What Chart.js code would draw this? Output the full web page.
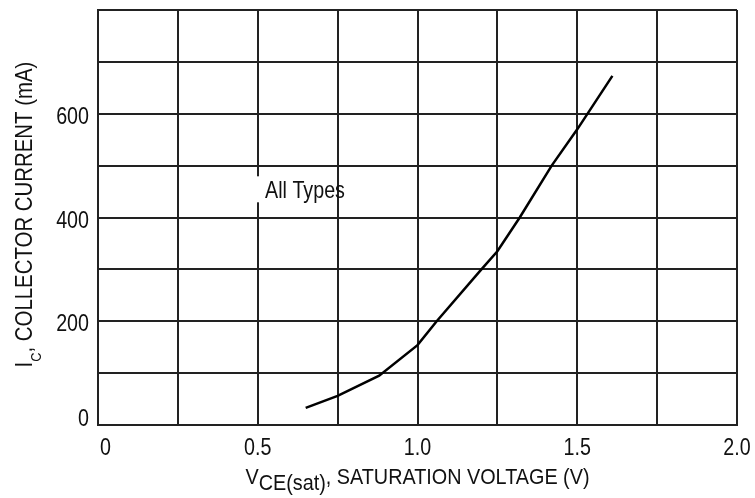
<!DOCTYPE html>
<html>
<head>
<meta charset="utf-8">
<script src="https://cdn.jsdelivr.net/npm/chart.js@4.4.1/dist/chart.umd.min.js"></script>
<style>
html, body { margin: 0; padding: 0; background: #fff; }
</style>
</head>
<body>
<canvas id="saturacion" width="755" height="498"></canvas>
<script>
// Curva (V, mA)
const vce = [0.65, 0.75, 0.88, 1.0, 1.06, 1.2, 1.25, 1.32, 1.42, 1.5, 1.61];
const ic = [33, 56, 95, 154, 200, 300, 335, 400, 500, 570, 673];

// Etiquetas de los ejes
const valoresX = [0, 0.5, 1.0, 1.5, 2.0];
const etiquetasX = ["0", "0.5", "1.0", "1.5", "2.0"];
const valoresY = [0, 200, 400, 600];
const etiquetasY = ["0", "200", "400", "600"];

// Arial Narrow no esta: se usa Liberation Sans comprimida a lo ancho
const fuente = "'Liberation Sans', Arial, sans-serif";
const estrecho = 0.82;
const negro = "#111";
const rejilla = "#222";

function texto(ctx, t, x, y, tam, alin, esc) {
    ctx.save();
    ctx.translate(x, y);
    ctx.scale(esc || estrecho, 1);
    ctx.font = tam + "px " + fuente;
    ctx.textAlign = alin || "left";
    ctx.fillText(t, 0, 0);
    ctx.restore();
}
function ancho(ctx, t, tam, esc) {
    ctx.font = tam + "px " + fuente;
    return ctx.measureText(t).width * (esc || estrecho);
}
// partes: [texto, tamaño, desplazamiento hacia abajo]
function partes(ctx, lista, x, y, esc) {
    lista.forEach(p => {
        texto(ctx, p[0], x, y + p[2], p[1], "left", esc);
        x += ancho(ctx, p[0], p[1], esc);
    });
}
function anchoPartes(ctx, lista, esc) {
    return lista.reduce((w, p) => w + ancho(ctx, p[0], p[1], esc), 0);
}

const textos = {
    id: "textos",
    afterDraw(chart) {
        const ctx = chart.ctx;
        const area = chart.chartArea;
        const sx = chart.scales.x, sy = chart.scales.y;
        ctx.save();
        ctx.fillStyle = negro;
        ctx.textBaseline = "alphabetic";

        // etiquetas del eje X
        valoresX.forEach((v, i) => {
            const px = sx.getPixelForValue(v);
            if (i === 0) texto(ctx, etiquetasX[i], px + 2, area.bottom + 30, 24, "left");
            else texto(ctx, etiquetasX[i], px, area.bottom + 30, 24, "center");
        });
        // etiquetas del eje Y
        valoresY.forEach((v, i) => {
            const py = sy.getPixelForValue(v);
            texto(ctx, etiquetasY[i], area.left - 9, py + (i === 0 ? 1 : 10), 24, "right");
        });

        // "All Types" con fondo blanco
        const tx = sx.getPixelForValue(0.523);
        const ty = sy.getPixelForValue(437);
        const tw = ancho(ctx, "All Types", 24);
        ctx.fillStyle = "#fff";
        ctx.fillRect(tx - 10, ty - 22, tw + 2, 26);
        ctx.fillStyle = negro;
        texto(ctx, "All Types", tx, ty, 24);

        // titulo eje X
        const partesX = [["V", 22, 0], ["CE(sat)", 22, 6], [", SATURATION VOLTAGE (V)", 22, 0]];
        const wx = anchoPartes(ctx, partesX, 0.9);
        partes(ctx, partesX, (area.left + area.right) / 2 - wx / 2, area.bottom + 59, 0.9);

        // titulo eje Y
        const partesY = [["I", 24, 0], ["C", 15, 9], [", COLLECTOR CURRENT (mA)", 24, 0]];
        const wy = anchoPartes(ctx, partesY, 0.85);
        ctx.translate(32, (area.top + area.bottom) / 2 - 3);
        ctx.rotate(-Math.PI / 2);
        partes(ctx, partesY, -wy / 2, 0, 0.85);
        ctx.restore();
    }
};

new Chart("saturacion", {
    type: "scatter",
    data: {
        datasets: [{
            data: vce.map((v, i) => ({ x: v, y: ic[i] })),
            showLine: true,
            borderColor: "#000",
            borderWidth: 2.5,
            pointRadius: 0,
            tension: 0
        }]
    },
    options: {
        responsive: false,
        animation: false,
        devicePixelRatio: 1,
        layout: { padding: { top: 10, right: 18, left: 0, bottom: 0 } },
        plugins: {
            legend: { display: false },
            tooltip: { enabled: false }
        },
        scales: {
            x: {
                type: "linear",
                min: 0,
                max: 2,
                afterFit: s => { s.height = 73; },
                ticks: { stepSize: 0.25, autoSkip: false, display: false },
                grid: { color: rejilla, lineWidth: 2, drawTicks: false },
                border: { display: true, color: rejilla, width: 2 }
            },
            y: {
                min: 0,
                max: 800,
                afterFit: s => { s.width = 98; },
                ticks: { stepSize: 100, autoSkip: false, display: false },
                grid: { color: rejilla, lineWidth: 2, drawTicks: false },
                border: { display: true, color: rejilla, width: 2 }
            }
        }
    },
    plugins: [textos]
});
</script>
</body>
</html>
